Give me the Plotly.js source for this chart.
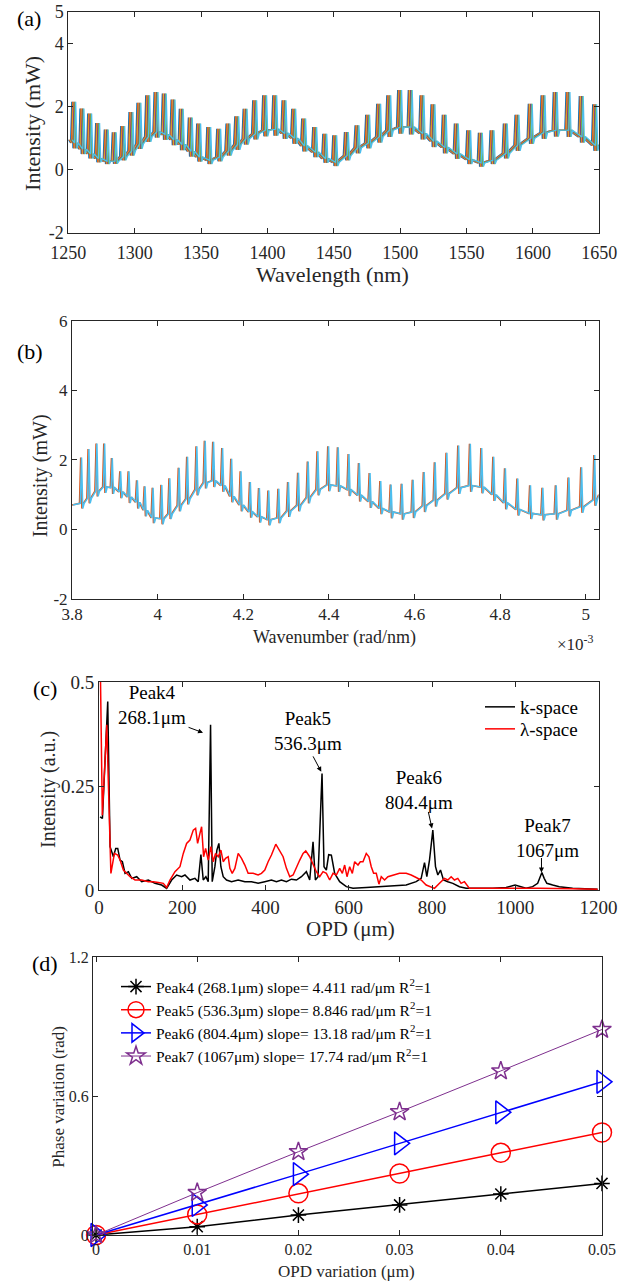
<!DOCTYPE html>
<html>
<head>
<meta charset="utf-8">
<script src="https://cdn.plot.ly/plotly-3.0.1.min.js"></script>
<style>html,body{margin:0;padding:0;background:#fff;}#chart{width:641px;height:1284px;}</style>
</head>
<body>
<div id="chart"></div>
<script>
// ---------------- DATA ----------------
// (a) spectra vs wavelength: spike positions (nm), spike tops, level between spikes and dip after each spike (mW)
const aSpikeNm = [1252.6,1258.8,1264.6,1270.6,1277.1,1283.1,1289.5,1295.7,1301.7,1308.3,1314.6,1320.8,1327.4,1333.6,1340.4,1346.7,1354.3,1361.8,1368.8,1375.4,1381.7,1388.9,1396.4,1404.0,1411.0,1418.3,1425.8,1434.1,1441.7,1449.2,1458.0,1466.0,1474.0,1482.3,1489.9,1498.1,1506.1,1514.9,1523.2,1531.7,1540.8,1550.1,1558.9,1567.7,1577.7,1586.5,1596.5,1606.1,1615.3,1624.9,1634.9,1645.0];
const aSpikeTop = [2.15,1.94,1.78,1.48,1.27,1.19,1.38,1.83,2.12,2.36,2.46,2.41,2.22,1.93,1.65,1.46,1.35,1.30,1.46,1.69,1.93,2.20,2.36,2.36,2.20,1.93,1.62,1.35,1.14,1.09,1.19,1.41,1.74,2.09,2.36,2.52,2.52,2.36,2.07,1.74,1.46,1.25,1.17,1.25,1.46,1.74,2.09,2.36,2.46,2.46,2.33,2.07];
const aSpikeBase = [0.85,0.65,0.50,0.35,0.27,0.27,0.42,0.60,0.82,1.05,1.20,1.12,0.95,0.80,0.58,0.40,0.30,0.40,0.60,0.80,0.98,1.14,1.25,1.28,1.15,1.00,0.75,0.55,0.35,0.24,0.45,0.70,0.85,1.05,1.25,1.35,1.35,1.15,0.90,0.70,0.50,0.32,0.22,0.30,0.52,0.78,1.00,1.18,1.25,1.25,1.04,0.77];
const aSpikeDip = [0.68,0.50,0.36,0.24,0.18,0.19,0.30,0.45,0.66,0.88,1.02,0.95,0.78,0.62,0.42,0.26,0.18,0.27,0.45,0.63,0.80,0.96,1.06,1.08,0.98,0.82,0.58,0.40,0.22,0.12,0.30,0.52,0.68,0.86,1.04,1.14,1.12,0.96,0.72,0.52,0.35,0.18,0.10,0.18,0.36,0.60,0.82,0.98,1.05,1.04,0.86,0.60];
const aEdgeNm = [1250, 1650];
const aEdgeVal = [0.95, 0.66];
const aTraceShiftNm = [0, 0.6, 1.2, 1.8, 2.4, 3.0];
const aTraceColors = ['#0072BD','#D95319','#EDB120','#7E2F8E','#77AC30','#4DBEEE'];
const aXTicks = [1250,1300,1350,1400,1450,1500,1550,1600,1650];
const aYTicks = [-2,0,2,4,5];
const aYTickText = ['-2','0','2','4','5'];

// (b) spectra vs wavenumber (x in units of 1e-3 rad/nm)
const bSpikeK = [3.8203,3.8375,3.8562,3.8742,3.8921,3.9116,3.9311,3.9507,3.9686,3.9874,4.0077,4.0264,4.0482,4.0678,4.0896,4.1091,4.1286,4.1497,4.1708,4.1927,4.2145,4.2356,4.2575,4.2809,4.3035,4.3269,4.3496,4.3722,4.3972,4.4198,4.4448,4.4690,4.4940,4.5190,4.5432,4.5689,4.5947,4.6205,4.6462,4.6735,4.7009,4.7282,4.7548,4.7828,4.8101,4.8390,4.8687,4.8976,4.9288,4.9585,4.9881,5.0186];
const bSpikeTop = [2.07,2.31,2.47,2.47,2.05,1.67,1.67,1.41,1.24,1.20,1.28,1.47,1.77,2.09,2.39,2.55,2.52,2.34,2.03,1.67,1.36,1.19,1.12,1.17,1.36,1.63,1.95,2.25,2.39,2.36,2.17,1.91,1.62,1.39,1.29,1.31,1.43,1.65,1.93,2.20,2.41,2.46,2.34,2.09,1.76,1.46,1.27,1.20,1.27,1.49,1.79,2.14];
const bSpikeBase = [0.75,0.90,1.10,1.22,1.20,1.08,0.93,0.78,0.55,0.33,0.31,0.45,0.69,0.88,1.15,1.35,1.40,1.26,0.95,0.70,0.50,0.36,0.28,0.33,0.53,0.69,0.92,1.15,1.28,1.25,1.14,0.98,0.80,0.60,0.50,0.45,0.50,0.68,0.84,1.03,1.20,1.26,1.22,1.00,0.76,0.57,0.46,0.42,0.45,0.55,0.65,0.85];
const bSpikeDip = [0.60,0.75,0.95,1.05,1.02,0.90,0.76,0.60,0.38,0.18,0.15,0.30,0.52,0.72,0.98,1.18,1.22,1.08,0.78,0.52,0.34,0.20,0.12,0.18,0.36,0.52,0.75,0.98,1.10,1.08,0.96,0.80,0.62,0.44,0.32,0.28,0.33,0.50,0.66,0.86,1.02,1.08,1.04,0.82,0.58,0.40,0.30,0.26,0.28,0.38,0.48,0.68];
const bEdgeK = [3.8, 5.03];
const bEdgeVal = [0.70, 1.0];
const bTraceShift = [0, 0.002];
const bTraceColors = ['#D95319','#4DBEEE'];
const bXTicks = [3.8,4.0,4.2,4.4,4.6,4.8,5.0];
const bXTickText = ['3.8','4','4.2','4.4','4.6','4.8','5'];
const bYTicks = [-2,0,2,4,6];
const bYTickText = ['-2','0','2','4','6'];

// (c) FFT spectra
const kOpd = [2.6,8.2,21.0,26.6,34.6,40.2,45.0,50.6,56.2,62.6,70.6,78.6,90.6,102.6,118.5,134.5,150.5,162.5,174.5,186.5,198.5,206.5,218.5,230.5,238.4,244.8,250.4,256.8,262.4,268.0,272.0,278.4,283.2,288.0,292.8,298.4,306.4,318.4,334.4,350.4,366.3,382.3,398.3,414.3,426.3,438.3,450.3,462.3,474.3,486.3,498.2,506.2,514.2,519.8,526.2,531.8,535.8,540.6,546.2,551.8,558.2,566.2,578.2,594.2,610.1,642.1,674.1,706.0,738.0,762.0,774.0,782.0,787.6,794.0,802.0,808.4,814.0,820.4,827.6,838.0,850.0,866.0,881.9,913.9,945.9,977.9,999.5,1025.9,1041.9,1053.9,1064.0,1069.5,1075.9,1089.9,1105.8,1137.8,1169.8,1197.8];
const kInt = [0.176,0.172,0.453,0.104,0.080,0.100,0.100,0.072,0.068,0.040,0.044,0.028,0.032,0.020,0.024,0.016,0.012,0.004,0.024,0.036,0.032,0.036,0.024,0.028,0.020,0.085,0.024,0.032,0.020,0.397,0.020,0.056,0.096,0.112,0.056,0.032,0.024,0.020,0.024,0.020,0.020,0.016,0.020,0.024,0.020,0.024,0.020,0.026,0.024,0.032,0.044,0.024,0.116,0.024,0.032,0.168,0.280,0.056,0.048,0.085,0.084,0.040,0.020,0.008,0.004,0.006,0.008,0.009,0.012,0.020,0.028,0.066,0.032,0.072,0.144,0.056,0.036,0.048,0.024,0.020,0.016,0.008,0.004,0.004,0.004,0.006,0.012,0.004,0.008,0.016,0.042,0.028,0.016,0.012,0.008,0.004,0.0024,0.0016];
const lamOpd = [0.5,3.0,8.0,18.6,28.6,37.0,45.0,50.6,58.6,66.6,74.6,86.6,102.6,118.5,130.5,142.5,154.5,162.5,170.5,182.5,194.5,202.5,210.5,218.5,226.5,232.1,236.9,242.5,246.5,251.3,256.1,262.4,268.8,274.4,280.0,286.4,292.8,298.4,304.0,310.4,314.4,320.0,326.4,334.4,342.4,350.4,358.3,370.3,382.3,390.3,398.3,406.3,414.3,424.7,432.7,442.3,450.3,458.3,466.3,474.3,482.3,490.3,496.7,506.2,514.2,522.2,530.2,538.2,546.2,554.2,562.2,570.2,578.2,584.6,590.2,595.8,602.2,608.6,614.2,622.2,627.8,634.2,642.1,648.5,654.1,659.7,666.1,672.5,678.1,686.1,694.1,706.0,722.0,738.0,750.0,762.0,774.0,786.0,798.0,806.0,818.0,830.0,838.0,846.0,854.0,862.0,869.9,877.9,889.9,905.9,937.9,993.9,1057.9,1137.8,1197.8];
const lamInt = [0.62,0.55,0.18,0.397,0.040,0.088,0.084,0.072,0.048,0.040,0.032,0.024,0.024,0.020,0.020,0.018,0.016,0.006,0.024,0.044,0.056,0.088,0.112,0.120,0.144,0.148,0.112,0.136,0.152,0.080,0.100,0.072,0.104,0.068,0.088,0.080,0.096,0.068,0.076,0.080,0.052,0.040,0.052,0.088,0.076,0.060,0.040,0.040,0.036,0.040,0.048,0.068,0.084,0.110,0.096,0.080,0.052,0.032,0.036,0.052,0.072,0.088,0.094,0.080,0.060,0.044,0.032,0.044,0.040,0.024,0.040,0.036,0.052,0.040,0.060,0.032,0.056,0.040,0.068,0.060,0.068,0.068,0.088,0.080,0.056,0.040,0.040,0.014,0.032,0.024,0.032,0.036,0.040,0.040,0.036,0.030,0.024,0.012,0.008,0.004,0.016,0.028,0.024,0.032,0.024,0.028,0.016,0.020,0.004,0.004,0.004,0.005,0.004,0.003,0.002];
const cSeriesNames = ['k-space','\u03bb-space'];
const peakLabels = ['Peak4<br>268.1\u03bcm','Peak5<br>536.3\u03bcm','Peak6<br>804.4\u03bcm','Peak7<br>1067\u03bcm'];
const peakTextOpd = [128, 502, 768, 1078];
const peakTextInt = [0.445, 0.383, 0.240, 0.126];
const peakArrowOpd = [250, 534, 800, 1063];
const peakArrowInt = [0.378, 0.284, 0.148, 0.042];
const peakArrowAx = [-16, -9, -4, 0];
const peakArrowAy = [-6, -17, -18, -16];

// (d) phase vs OPD variation
const opdVar = [0,0.01,0.02,0.03,0.04,0.05];
const phase4 = [0,0.036,0.086,0.130,0.177,0.223];
const phase5 = [0,0.089,0.180,0.266,0.355,0.443];
const phase6 = [0,0.130,0.263,0.396,0.530,0.662];
const phase7 = [0,0.183,0.360,0.532,0.709,0.888];
const dNames = ['Peak4 (268.1\u03bcm) slope= 4.411 rad/\u03bcm R<sup>2</sup>=1',
                'Peak5 (536.3\u03bcm) slope= 8.846 rad/\u03bcm R<sup>2</sup>=1',
                'Peak6 (804.4\u03bcm) slope= 13.18 rad/\u03bcm R<sup>2</sup>=1',
                'Peak7 (1067\u03bcm) slope= 17.74 rad/\u03bcm R<sup>2</sup>=1'];
const dXTicks = [0,0.01,0.02,0.03,0.04,0.05];
const dXTickText = ['0','0.01','0.02','0.03','0.04','0.05'];
const dYTicks = [0,0.6,1.2];
const dYTickText = ['0','0.6','1.2'];

// ---------------- LAYOUT HELPERS ----------------
const W = 641, H = 1284;
const FONT = 'Liberation Serif';
const AX = '#262626';
const fx = p => p / W;
const fy = p => 1 - p / H;

// each spike: level -> top -> dip -> back to level
function spikeSeries(pos, top, base, dip, edgeX, edgeY, halfW, shift) {
  const xs = [edgeX[0] + shift], ys = [edgeY[0]];
  for (let i = 0; i < pos.length; i++) {
    xs.push(pos[i] - halfW + shift, pos[i] + shift, pos[i] + halfW + shift, pos[i] + 2.2 * halfW + shift);
    ys.push(base[i], top[i], dip[i], base[i]);
  }
  xs.push(edgeX[1] + shift); ys.push(edgeY[1]);
  return {xs, ys};
}

function axis(domainPx, range, tickvals, ticktext, fontSize, anchor, isY) {
  const d = isY ? [fy(domainPx[1]), fy(domainPx[0])] : [fx(domainPx[0]), fx(domainPx[1])];
  return {
    domain: d, range: range, anchor: anchor,
    showline: true, linecolor: AX, linewidth: 1, mirror: 'ticks',
    ticks: 'inside', ticklen: 5, tickwidth: 1, tickcolor: AX,
    showgrid: false, zeroline: false, fixedrange: true,
    tickmode: 'array', tickvals: tickvals, ticktext: ticktext,
    tickfont: {family: FONT, size: fontSize, color: AX}
  };
}

const traces = [];
// (a)
aTraceShiftNm.forEach((s, i) => {
  const sr = spikeSeries(aSpikeNm, aSpikeTop, aSpikeBase, aSpikeDip, aEdgeNm, aEdgeVal, 0.9, s);
  traces.push({x: sr.xs, y: sr.ys, xaxis: 'x', yaxis: 'y', mode: 'lines',
    line: {color: aTraceColors[i], width: 1.2}, showlegend: false, hoverinfo: 'skip'});
});
// (b)
bTraceShift.forEach((s, i) => {
  const sr = spikeSeries(bSpikeK, bSpikeTop, bSpikeBase, bSpikeDip, bEdgeK, bEdgeVal, 0.0028, s);
  traces.push({x: sr.xs, y: sr.ys, xaxis: 'x2', yaxis: 'y2', mode: 'lines',
    line: {color: bTraceColors[i], width: 1.5}, showlegend: false, hoverinfo: 'skip'});
});
// (c)
traces.push({x: kOpd, y: kInt, xaxis: 'x3', yaxis: 'y3', mode: 'lines', name: cSeriesNames[0],
  line: {color: '#000000', width: 1.5}, legend: 'legend'});
traces.push({x: lamOpd, y: lamInt, xaxis: 'x3', yaxis: 'y3', mode: 'lines', name: cSeriesNames[1],
  line: {color: '#FF0000', width: 1.5}, legend: 'legend3'});
// (d)
const dSeries = [phase4, phase5, phase6, phase7];
const dStyle = [
  {color: '#000000', symbol: 'asterisk-open', size: 13, lw: 1.5},
  {color: '#FF0000', symbol: 'circle-open', size: 19, lw: 1.5},
  {color: '#0000FF', symbol: 'triangle-right-open', size: 20, lw: 1.5},
  {color: '#7E2F8E', symbol: 'star-open', size: 14, lw: 1}
];
dSeries.forEach((ys, i) => {
  const st = dStyle[i];
  traces.push({x: opdVar, y: ys, xaxis: 'x4', yaxis: 'y4', mode: 'lines+markers', name: dNames[i],
    line: {color: st.color, width: st.lw},
    marker: {symbol: st.symbol, size: st.size, color: st.color, line: {color: st.color, width: 1.5}},
    cliponaxis: false, legend: 'legend2'});
});

// panel geometry (px)
const A = {x: [68.3, 599.3], y: [11.7, 233]};
const B = {x: [72, 598.7], y: [320.7, 599]};
const C = {x: [99, 598.5], y: [682, 890]};
const D = {x: [93, 602], y: [957.3, 1235]};

function txt(text, x, y, size, opts) {
  return Object.assign({text: text, xref: 'paper', yref: 'paper', x: fx(x), y: fy(y),
    xanchor: 'center', yanchor: 'middle', showarrow: false,
    font: {family: FONT, size: size, color: '#000'}}, opts || {});
}

const annotations = [
  txt('(a)', 28.5, 18.3, 22),
  txt('(b)', 29.5, 351.7, 22),
  txt('(c)', 44.8, 688.3, 22),
  txt('(d)', 44.8, 963.3, 22),
  txt('Wavelength (nm)', 332.6, 275, 22, {font: {family: FONT, size: 22, color: AX}}),
  txt('Intensity (mW)', 32.6, 123.3, 22, {textangle: -90, font: {family: FONT, size: 22, color: AX}}),
  txt('Wavenumber (rad/nm)', 334.4, 637.3, 18, {font: {family: FONT, size: 18, color: AX}}),
  txt('Intensity (mW)', 40.7, 475.5, 20, {textangle: -90, font: {family: FONT, size: 20, color: AX}}),
  txt('\u00d710<sup>-3</sup>', 575, 643, 17, {font: {family: FONT, size: 17, color: AX}}),
  txt('OPD (\u03bcm)', 350.3, 929.3, 21, {font: {family: FONT, size: 21, color: AX}}),
  txt('Intensity (a.u.)', 48, 790, 20, {textangle: -90, font: {family: FONT, size: 20, color: AX}}),
  txt('OPD variation (\u03bcm)', 346.2, 1271.7, 17, {font: {family: FONT, size: 17, color: AX}}),
  txt('Phase variation (rad)', 59, 1096.7, 17, {textangle: -90, font: {family: FONT, size: 17, color: AX}})
];
peakLabels.forEach((t, i) => {
  annotations.push({text: t, xref: 'x3', yref: 'y3', x: peakTextOpd[i], y: peakTextInt[i],
    xanchor: 'center', yanchor: 'middle', showarrow: false,
    font: {family: FONT, size: 19, color: '#000'}});
  annotations.push({text: '', xref: 'x3', yref: 'y3', x: peakArrowOpd[i], y: peakArrowInt[i],
    showarrow: true, ax: peakArrowAx[i], ay: peakArrowAy[i], arrowhead: 2, arrowsize: 1,
    arrowwidth: 1, arrowcolor: '#000', standoff: 0, startstandoff: 0});
});

const legendBase = {xanchor: 'left', yanchor: 'top', bgcolor: 'rgba(0,0,0,0)', borderwidth: 0, itemwidth: 30};
const xa = axis(A.x, [1250, 1650], aXTicks, aXTicks.map(String), 18, 'y', false);
xa.ticklabelstandoff = 3;
const layout = {
  width: W, height: H, margin: {l: 0, r: 0, t: 0, b: 0},
  paper_bgcolor: '#fff', plot_bgcolor: '#fff', hovermode: false,
  xaxis: xa,
  yaxis: axis(A.y, [-2, 5], aYTicks, aYTickText, 18, 'x', true),
  xaxis2: axis(B.x, [3.8, 5.03], bXTicks, bXTickText, 17, 'y2', false),
  yaxis2: axis(B.y, [-2, 6], bYTicks, bYTickText, 17, 'x2', true),
  xaxis3: axis(C.x, [0, 1200], [0,200,400,600,800,1000,1200], ['0','200','400','600','800','1000','1200'], 19, 'y3', false),
  yaxis3: axis(C.y, [0, 0.5], [0, 0.25, 0.5], ['0','0.25','0.5'], 19, 'x3', true),
  xaxis4: axis(D.x, [-0.0003, 0.05], dXTicks, dXTickText, 16, 'y4', false),
  yaxis4: axis(D.y, [0, 1.2], dYTicks, dYTickText, 16, 'x4', true),
  legend: Object.assign({x: fx(480), y: fy(688), font: {family: FONT, size: 19, color: '#000'}}, legendBase),
  legend3: Object.assign({x: fx(480), y: fy(710), font: {family: FONT, size: 19, color: '#000'}}, legendBase),
  legend2: Object.assign({x: fx(116), y: fy(970), font: {family: FONT, size: 15.5, color: '#000'}}, legendBase),
  annotations: annotations
};

Plotly.newPlot('chart', traces, layout, {staticPlot: true, displayModeBar: false});
</script>
</body>
</html>
